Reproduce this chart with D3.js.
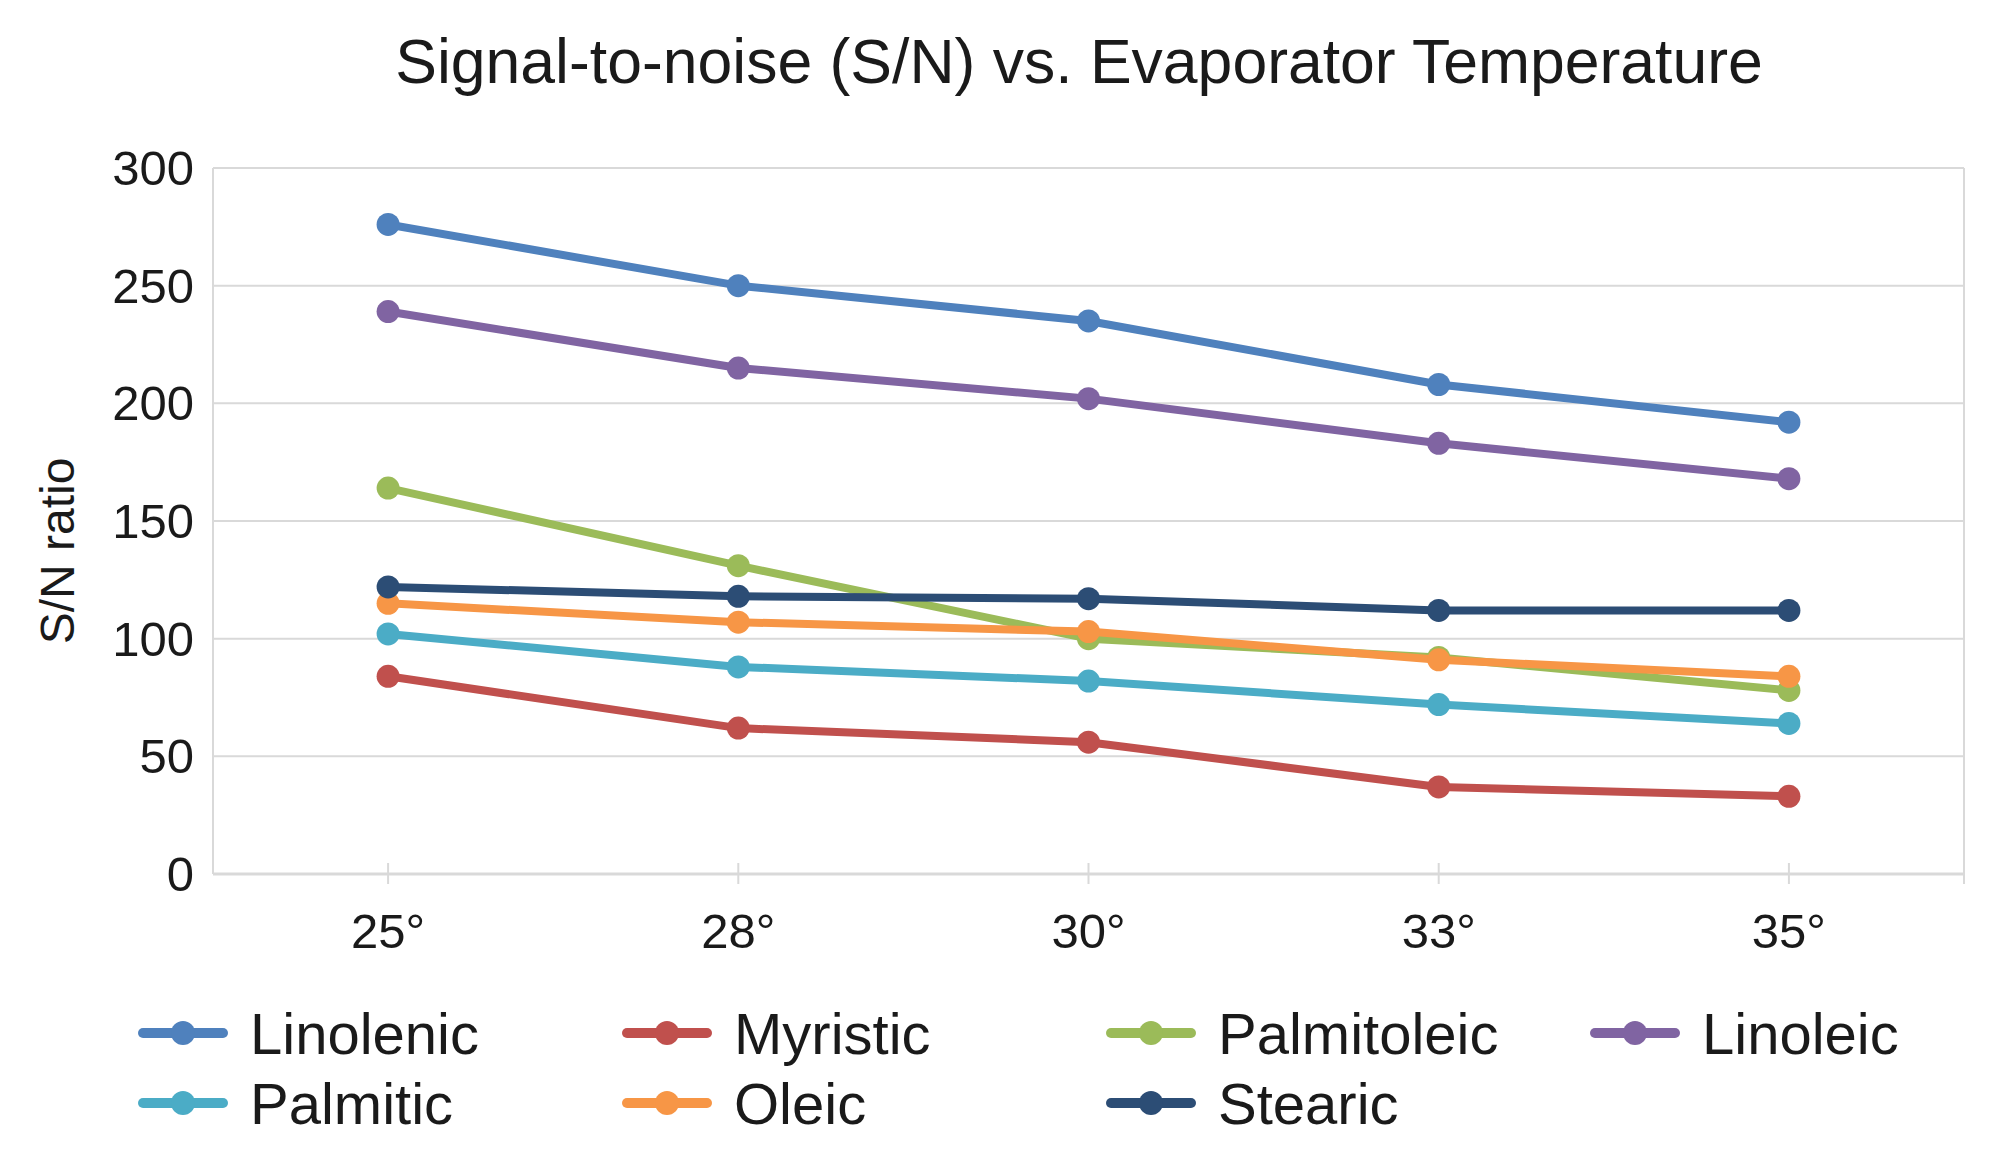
<!DOCTYPE html>
<html><head><meta charset="utf-8">
<script src="https://cdn.jsdelivr.net/npm/d3@7"></script>
<style>
html,body{margin:0;padding:0;background:#fff;}
svg{display:block;font-family:"Liberation Sans",Arial,sans-serif;}
</style></head>
<body><svg id="c" width="2000" height="1172"></svg>
<script>
const categories = ["25°","28°","30°","33°","35°"];
const seriesNames = ["Linolenic","Myristic","Palmitoleic","Linoleic","Palmitic","Oleic","Stearic"];
const linolenic   = [276, 250, 235, 208, 192];
const myristic    = [84, 62, 56, 37, 33];
const palmitoleic = [164, 131, 100, 92, 78];
const linoleic    = [239, 215, 202, 183, 168];
const palmitic    = [102, 88, 82, 72, 64];
const oleic       = [115, 107, 103, 91, 84];
const stearic     = [122, 118, 117, 112, 112];
const colors = ["#4F81BD","#C0504D","#9BBB59","#8064A2","#4BACC6","#F79646","#2C4D75"];
const yTicks = [0,50,100,150,200,250,300];
const title = "Signal-to-noise (S/N) vs. Evaporator Temperature";
const yTitle = "S/N ratio";

const values = [linolenic, myristic, palmitoleic, linoleic, palmitic, oleic, stearic];
const series = seriesNames.map((n,i)=>({name:n,color:colors[i],values:values[i]}));

const svg = d3.select("#c");
const L=213, R=1964, T=168, B=874;
const x = d3.scalePoint().domain(categories).range([L,R]).padding(0.5);
const y = d3.scaleLinear().domain([0,300]).range([B,T]);
const grid = "#D9D9D9";

svg.append("g").selectAll("line").data(yTicks).join("line")
  .attr("x1",L).attr("x2",R).attr("y1",d=>y(d)).attr("y2",d=>y(d))
  .attr("stroke",grid).attr("stroke-width",2);
svg.append("line").attr("x1",L).attr("x2",L).attr("y1",T).attr("y2",B).attr("stroke",grid).attr("stroke-width",2);
svg.append("line").attr("x1",R).attr("x2",R).attr("y1",T).attr("y2",B+10).attr("stroke",grid).attr("stroke-width",2);

svg.append("g").selectAll("line").data(categories).join("line")
  .attr("x1",d=>x(d)).attr("x2",d=>x(d)).attr("y1",B-11).attr("y2",B+10)
  .attr("stroke",grid).attr("stroke-width",2);
svg.append("line").attr("x1",L).attr("x2",R).attr("y1",B).attr("y2",B).attr("stroke",grid).attr("stroke-width",3);

svg.append("g").selectAll("text").data(yTicks).join("text")
  .attr("x",194).attr("y",d=>y(d)).attr("text-anchor","end").attr("dominant-baseline","central")
  .attr("font-size",49).attr("fill","#1a1a1a").text(d=>d);
svg.append("g").selectAll("text").data(categories).join("text")
  .attr("x",d=>x(d)).attr("y",931).attr("text-anchor","middle").attr("dominant-baseline","central")
  .attr("font-size",49).attr("fill","#1a1a1a").text(d=>d);

svg.append("text").attr("x",1079).attr("y",61).attr("text-anchor","middle").attr("dominant-baseline","central")
  .attr("font-size",62.5).attr("fill","#1a1a1a").text(title);
svg.append("text").attr("transform","translate(57,551) rotate(-90)").attr("text-anchor","middle")
  .attr("dominant-baseline","central").attr("font-size",48).attr("fill","#1a1a1a").text(yTitle);

const line = d3.line().x((d,i)=>x(categories[i])).y(d=>y(d));
const g = svg.append("g");
series.forEach(s=>{
  const sg = g.append("g");
  sg.append("path").attr("d",line(s.values)).attr("fill","none").attr("stroke",s.color)
    .attr("stroke-width",8).attr("stroke-linejoin","round");
  sg.selectAll("circle").data(s.values).join("circle")
    .attr("cx",(d,i)=>x(categories[i])).attr("cy",d=>y(d)).attr("r",11.5).attr("fill",s.color);
});

const legX = [140,624,1108,1592], legY=[1033,1103];
const lg = svg.append("g");
series.forEach((s,i)=>{
  const col = i%4, row = Math.floor(i/4);
  const gx = legX[col], gy = legY[row];
  const it = lg.append("g").attr("transform",`translate(${gx},${gy})`);
  it.append("line").attr("x1",3).attr("x2",83).attr("y1",0).attr("y2",0).attr("stroke",s.color)
    .attr("stroke-width",10).attr("stroke-linecap","round");
  it.append("circle").attr("cx",43).attr("cy",0).attr("r",12).attr("fill",s.color);
  it.append("text").attr("x",110).attr("y",0).attr("dominant-baseline","central")
    .attr("font-size",58).attr("fill","#1a1a1a").text(s.name);
});
</script></body></html>
